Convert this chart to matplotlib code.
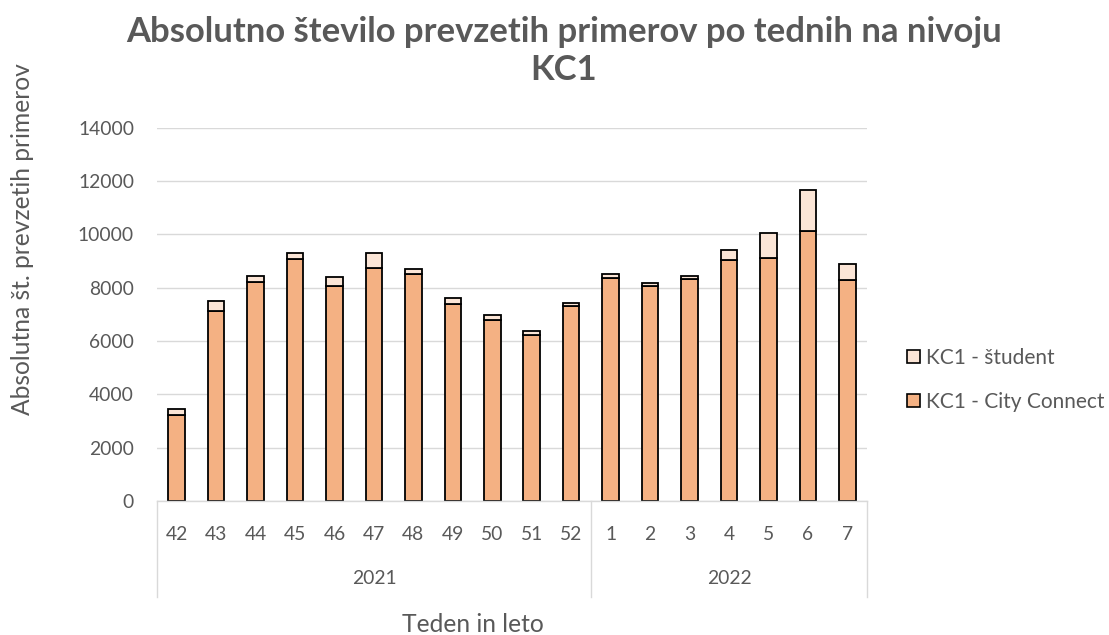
import matplotlib
matplotlib.use("Agg")
import matplotlib.pyplot as plt
import matplotlib.transforms as mtransforms
from matplotlib.patches import Patch

# ---------------- data ----------------
weeks = ['42', '43', '44', '45', '46', '47', '48', '49', '50', '51', '52',
         '1', '2', '3', '4', '5', '6', '7']
city_connect = [3240, 7110, 8225, 9075, 8075, 8725, 8500, 7400, 6775, 6225, 7300,
                8350, 8050, 8340, 9050, 9110, 10125, 8275]
student = [200, 380, 225, 225, 340, 575, 210, 210, 200, 160, 110,
           160, 125, 100, 350, 940, 1540, 610]
years = ['2021', '2022']
year_sizes = [11, 7]
y_ticks = [0, 2000, 4000, 6000, 8000, 10000, 12000, 14000]

title = "Absolutno število prevzetih primerov po tednih na nivoju\nKC1"
x_title = "Teden in leto"
y_title = "Absolutna št. prevzetih primerov"
label_cc = "KC1 - City Connect"
label_st = "KC1 - študent"

# ---------------- style ----------------
C_CC = '#F4B183'
C_ST = '#FBE5D6'
TXT = '#595959'
GRID = '#D9D9D9'
FONT = ['Lato', 'DejaVu Sans']
plt.rcParams['font.family'] = FONT

W, H = 1109, 635
fig = plt.figure(figsize=(W / 100, H / 100), dpi=100)
renderer = fig.canvas.get_renderer()

def px2fig(x, y):
    return x / W, 1 - y / H

def fitted_size(text, target_px, weight='normal', start=14):
    t = fig.text(0, 0, text, fontsize=start, fontweight=weight)
    w = t.get_window_extent(renderer).width
    t.remove()
    return start * target_px / w

fs_tick = fitted_size('14000', 56)
fs_axis = fitted_size(x_title, 142)
fs_leg = fitted_size(label_cc, 178)
fs_title = fitted_size(title.split('\n')[0], 882, weight='bold')

# axes geometry (pixels)
L, R, T, B = 157, 867, 127.7, 501
ax = fig.add_axes([L / W, 1 - B / H, (R - L) / W, (B - T) / H])

x = list(range(len(weeks)))
bw = 0.42
ax.bar(x, city_connect, width=bw, color=C_CC, edgecolor='black', linewidth=1.3,
       label=label_cc, zorder=2)
ax.bar(x, student, width=bw, bottom=city_connect, color=C_ST, edgecolor='black',
       linewidth=1.3, label=label_st, zorder=2)

ax.set_xlim(-0.5, len(weeks) - 0.5)
ax.set_ylim(0, 14000)
ax.set_yticks(y_ticks)
ax.set_yticklabels([str(v) for v in y_ticks])
ax.set_xticks(x)
ax.set_xticklabels(weeks)
ax.tick_params(axis='y', length=0, pad=23 * 0.72, labelsize=fs_tick, labelcolor=TXT)
ax.tick_params(axis='x', length=0, pad=25 * 0.72, labelsize=fs_tick, labelcolor=TXT)
ax.grid(axis='y', color=GRID, linewidth=1.0)
ax.set_axisbelow(True)
for s in ['left', 'right', 'top']:
    ax.spines[s].set_visible(False)
ax.spines['bottom'].set_color(GRID)
ax.spines['bottom'].set_linewidth(1.0)
ax.spines['bottom'].set_zorder(5)

# multi-level category axis
trans = mtransforms.blended_transform_factory(ax.transData, ax.transAxes)
def ypx_to_axes(ypx):
    return (B - ypx) / (B - T)

start = -0.5
bounds = [start]
for name, n in zip(years, year_sizes):
    end = start + n
    ax.text((start + end) / 2, ypx_to_axes(579), name, transform=trans,
            ha='center', va='center', fontsize=fs_tick, color=TXT)
    start = end
    bounds.append(end)
for b in bounds:
    ax.plot([b, b], [0, ypx_to_axes(597)], transform=trans, color=GRID,
            linewidth=1.0, clip_on=False)

# titles
tx, ty = px2fig(564, 51)
fig.text(tx, ty, title, ha='center', va='center', fontsize=fs_title,
         fontweight='bold', color=TXT, linespacing=1.25)
xx, xy = px2fig(473, 624)
fig.text(xx, xy, x_title, ha='center', va='center', fontsize=fs_axis, color=TXT)
yx, yy = px2fig(23, 63)
fig.text(yx, yy, y_title, ha='center', va='top', rotation=90, fontsize=fs_axis,
         color=TXT)

# legend
fs_leg_px = fs_leg / 0.72
handles = [Patch(facecolor=C_ST, edgecolor='black', linewidth=1.2, label=label_st),
           Patch(facecolor=C_CC, edgecolor='black', linewidth=1.2, label=label_cc)]
lx, ly = px2fig(907, 348)
fig.legend(handles=handles, loc='upper left', bbox_to_anchor=(lx, ly),
           frameon=False, fontsize=fs_leg, borderpad=0, borderaxespad=0,
           handlelength=13 / fs_leg_px, handleheight=13 / fs_leg_px,
           handletextpad=6 / fs_leg_px, labelspacing=(48 - 1.17 * fs_leg_px) / fs_leg_px,
           labelcolor=TXT)

fig.savefig('out.png', dpi=100)
